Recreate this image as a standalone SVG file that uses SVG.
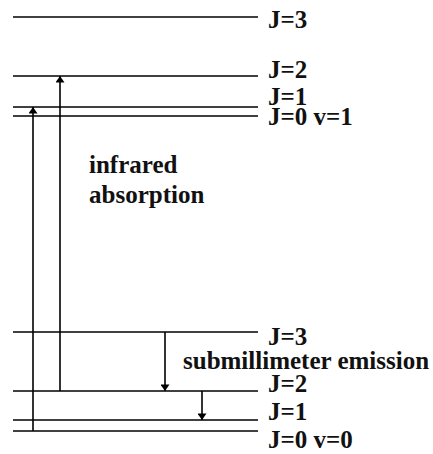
<svg xmlns="http://www.w3.org/2000/svg" width="433" height="454" viewBox="0 0 433 454">
  <style>
    .level { stroke: #000; stroke-width: 1.7; fill: none; }
    .trans { stroke: #000; stroke-width: 1.6; fill: none; marker-end: url(#head); }
    .lbl { font-family: "Liberation Serif", "Times New Roman", serif; font-weight: bold; font-size: 25px; fill: #111; }
  </style>
  <defs>
    <marker id="head" viewBox="0 0 10 14" refX="10" refY="7" markerWidth="14" markerHeight="9" markerUnits="userSpaceOnUse" orient="auto">
      <path d="M0,0 L10,7 L0,14 Z" fill="#000"/>
    </marker>
  </defs>
  <rect width="433" height="454" fill="#fff"/>

  <!-- v=1 rotational levels -->
  <g id="v1-J3"><line class="level" x1="13" y1="17" x2="258" y2="17"/><text class="lbl" x="268" y="28">J=3</text></g>
  <g id="v1-J2"><line class="level" x1="13" y1="76" x2="258" y2="76"/><text class="lbl" x="268" y="78">J=2</text></g>
  <g id="v1-J1"><line class="level" x1="13" y1="107" x2="258" y2="107"/><text class="lbl" x="268" y="105">J=1</text></g>
  <g id="v1-J0"><line class="level" x1="13" y1="116" x2="258" y2="116"/><text class="lbl" x="268" y="125">J=0 v=1</text></g>

  <!-- v=0 rotational levels -->
  <g id="v0-J3"><line class="level" x1="13" y1="332" x2="258" y2="332"/><text class="lbl" x="268" y="345">J=3</text></g>
  <g id="v0-J2"><line class="level" x1="13" y1="391" x2="258" y2="391"/><text class="lbl" x="268" y="392">J=2</text></g>
  <g id="v0-J1"><line class="level" x1="13" y1="420" x2="258" y2="420"/><text class="lbl" x="268" y="420">J=1</text></g>
  <g id="v0-J0"><line class="level" x1="13" y1="431" x2="258" y2="431"/><text class="lbl" x="268" y="448">J=0 v=0</text></g>

  <!-- transitions -->
  <g id="connectors">
    <line class="trans" x1="33" y1="431" x2="33" y2="107"/>
    <line class="trans" x1="60" y1="391" x2="60" y2="76"/>
    <line class="trans" x1="165" y1="332" x2="165" y2="391"/>
    <line class="trans" x1="202" y1="391" x2="202" y2="420"/>
  </g>

  <g id="captions">
    <text class="lbl" x="89" y="173">infrared</text>
    <text class="lbl" x="89" y="203">absorption</text>
    <text class="lbl" x="183" y="369">submillimeter emission</text>
  </g>
</svg>
